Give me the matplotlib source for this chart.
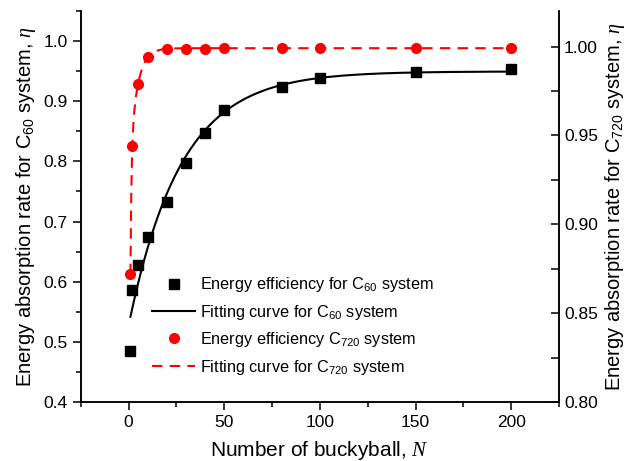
import numpy as np
import matplotlib.pyplot as plt
from matplotlib.ticker import MultipleLocator

plt.rcParams['font.family'] = ['Liberation Sans', 'DejaVu Sans']
plt.rcParams['mathtext.fontset'] = 'custom'
plt.rcParams['mathtext.rm'] = 'Liberation Sans'
plt.rcParams['mathtext.it'] = 'Liberation Serif:italic'

# data
n_c60 = np.array([1, 2, 5, 10, 20, 30, 40, 50, 80, 100, 150, 200])
eta_c60 = np.array([0.484, 0.586, 0.628, 0.675, 0.733, 0.798, 0.848, 0.886,
                    0.924, 0.939, 0.949, 0.954])
n_c720 = np.array([1, 2, 5, 10, 20, 30, 40, 50, 80, 100, 150, 200])
eta_c720 = np.array([0.872, 0.944, 0.979, 0.994, 0.9985, 0.9988, 0.9988,
                     0.999, 0.9993, 0.9993, 0.9993, 0.9993])


def exp_fit(x, y, taus1, taus2=None):
    # y = y0 - sum(A_i*exp(-x/t_i)), linear least squares for each (t1, t2)
    best = None
    pairs = [(t, None) for t in taus1] if taus2 is None else \
        [(a, b) for a in taus1 for b in taus2 if b > a]
    for ta, tb in pairs:
        cols = [np.ones_like(x, dtype=float), -np.exp(-x / ta)]
        if tb is not None:
            cols.append(-np.exp(-x / tb))
        M = np.column_stack(cols)
        coef = np.linalg.lstsq(M, y, rcond=None)[0]
        err = np.sum((M @ coef - y) ** 2)
        if best is None or err < best[0]:
            best = (err, (ta, tb), coef)
    return best[1], best[2]


def exp_eval(xv, taus, coef):
    out = coef[0] - coef[1] * np.exp(-xv / taus[0])
    if taus[1] is not None:
        out = out - coef[2] * np.exp(-xv / taus[1])
    return out


xs = np.linspace(1, 200, 1000)
tf1, cf1 = exp_fit(n_c60, eta_c60, np.linspace(5, 60, 500))
fit_c60 = exp_eval(xs, tf1, cf1)
tf2, cf2 = exp_fit(n_c720, eta_c720, np.linspace(0.3, 3, 60),
                   np.linspace(1, 10, 60))
fit_c720 = exp_eval(xs, tf2, cf2)

fig = plt.figure(figsize=(6.43, 4.61), dpi=100)
ax = fig.add_subplot(111)
fig.subplots_adjust(left=0.1255, right=0.8694, bottom=0.128, top=0.976)
ax2 = ax.twinx()

h1, = ax.plot(n_c60, eta_c60, 's', color='black', markersize=6.5,
              linestyle='none', label='Energy efficiency for C$_{60}$ system')
h2, = ax.plot(xs, fit_c60, '-', color='black', linewidth=1.5,
              label='Fitting curve for C$_{60}$ system')
h3, = ax2.plot(n_c720, eta_c720, 'o', color='#ff0000', markersize=7,
               linestyle='none', label='Energy efficiency C$_{720}$ system')
h4, = ax2.plot(xs, fit_c720, '--', color='#ff0000', linewidth=1.5,
               dashes=(5, 3.5), label='Fitting curve for C$_{720}$ system')

ax.set_xlim(-25, 225)
ax.set_ylim(0.4, 1.05)
ax2.set_ylim(0.8, 1.02)
ax.xaxis.set_major_locator(MultipleLocator(50))
ax.xaxis.set_minor_locator(MultipleLocator(25))
ax.yaxis.set_major_locator(MultipleLocator(0.1))
ax.yaxis.set_minor_locator(MultipleLocator(0.05))
ax2.yaxis.set_major_locator(MultipleLocator(0.05))
ax2.yaxis.set_minor_locator(MultipleLocator(0.025))

for a in (ax, ax2):
    a.spines['top'].set_visible(False)
    for s in a.spines.values():
        s.set_linewidth(1.1)
ax.tick_params(axis='both', which='major', direction='out', length=6,
               width=1.1, labelsize=12.5)
ax.tick_params(axis='both', which='minor', direction='out', length=3.5,
               width=1.1)
ax2.tick_params(axis='y', which='major', direction='in', length=6,
                width=1.1, labelsize=12.5)
ax2.tick_params(axis='y', which='minor', direction='in', length=6, width=1.1)

ax.set_xlabel('Number of buckyball, $N$', fontsize=15, labelpad=6.5)
ax.set_ylabel(r'Energy absorption rate for C$_{60}$ system, $\eta$',
              fontsize=14.5, labelpad=4)
ax2.set_ylabel(r'Energy absorption rate for C$_{720}$ system, $\eta$',
               fontsize=14.5, rotation=90, labelpad=4)

ax2.legend(handles=[h1, h2, h3, h4], loc='upper left',
           bbox_to_anchor=(0.227, 0.417), bbox_transform=fig.transFigure,
           frameon=False, fontsize=11.7, handlelength=2.6, handletextpad=0.3,
           labelspacing=0.52, borderaxespad=0)

fig.savefig('out.png', dpi=100)
